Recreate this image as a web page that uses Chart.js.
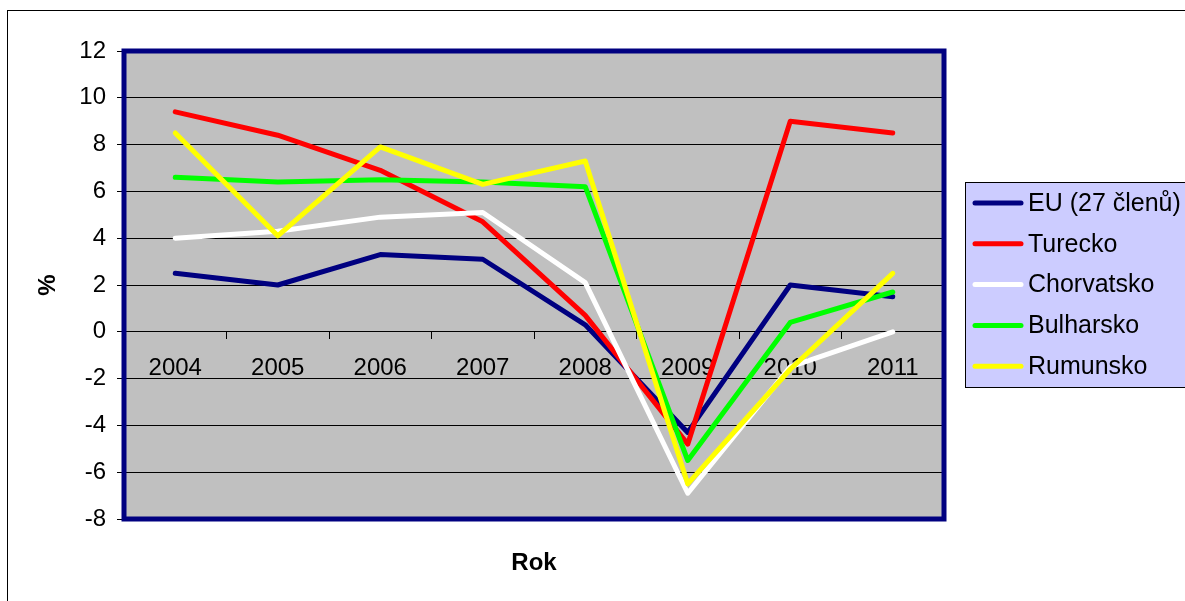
<!DOCTYPE html>
<html>
<head>
<meta charset="utf-8">
<script src="https://cdn.jsdelivr.net/npm/chart.js@4/dist/chart.umd.min.js"></script>
<style>
html,body{margin:0;padding:0;background:#fff;overflow:hidden}
canvas{display:block}
</style>
</head>
<body>
<canvas id="c" width="1185" height="601"></canvas>
<script>
// ---- data ----
const years = ['2004', '2005', '2006', '2007', '2008', '2009', '2010', '2011'];
const seriesNames = ['EU (27 členů)', 'Turecko', 'Chorvatsko', 'Bulharsko', 'Rumunsko'];
const euValues = [2.5, 2.0, 3.3, 3.1, 0.3, -4.3, 2.0, 1.5];
const tureckoValues = [9.4, 8.4, 6.9, 4.7, 0.7, -4.8, 9.0, 8.5];
const chorvatskoValues = [4.0, 4.3, 4.9, 5.1, 2.1, -6.9, -1.5, 0.0];
const bulharskoValues = [6.6, 6.4, 6.5, 6.4, 6.2, -5.5, 0.4, 1.7];
const rumunskoValues = [8.5, 4.1, 7.9, 6.3, 7.3, -6.5, -1.6, 2.5];
const yMin = -8, yMax = 12, yStep = 2;
const yTitle = '%';
const xTitle = 'Rok';

const seriesValues = [euValues, tureckoValues, chorvatskoValues, bulharskoValues, rumunskoValues];
const seriesColors = ['#000080', '#FF0000', '#FFFFFF', '#00FF00', '#FFFF00'];

const FONT = "'Liberation Sans', Arial, sans-serif";

const datasets = seriesNames.map((name, i) => ({
  label: name,
  data: seriesValues[i],
  borderColor: seriesColors[i],
  backgroundColor: seriesColors[i],
  borderWidth: 5,
  pointRadius: 0,
  pointHoverRadius: 0,
  tension: 0,
  fill: false,
  borderCapStyle: 'round',
  borderJoinStyle: 'round',
  order: seriesNames.length - 1 - i
}));

const decorPlugin = {
  id: 'decor',
  beforeDraw(chart) {
    const ctx = chart.ctx;
    const a = chart.chartArea;
    ctx.save();
    ctx.fillStyle = '#FFFFFF';
    ctx.fillRect(0, 0, chart.width, chart.height);
    // outer chart border
    ctx.strokeStyle = '#000000';
    ctx.lineWidth = 1;
    ctx.strokeRect(7.5, 10.5, chart.width + 20, chart.height + 20);
    // plot background
    ctx.fillStyle = '#C0C0C0';
    ctx.fillRect(a.left, a.top, a.right - a.left, a.bottom - a.top);
    ctx.restore();
  },
  afterDraw(chart) {
    const ctx = chart.ctx;
    const a = chart.chartArea;
    ctx.save();
    // plot frame
    ctx.strokeStyle = '#000080';
    ctx.lineWidth = 5;
    ctx.strokeRect(a.left, a.top, a.right - a.left, a.bottom - a.top);
    // axis titles
    ctx.fillStyle = '#000000';
    ctx.font = 'bold 24px ' + FONT;
    ctx.textAlign = 'center';
    ctx.textBaseline = 'middle';
    ctx.fillText(xTitle, (a.left + a.right) / 2, 563);
    ctx.save();
    ctx.translate(48, (a.top + a.bottom) / 2);
    ctx.rotate(-Math.PI / 2);
    ctx.fillText(yTitle, 0, 0);
    ctx.restore();
    // legend
    const lx = 965, ly = 182;
    ctx.fillStyle = '#CCCCFF';
    ctx.fillRect(lx, ly, 240, 205);
    ctx.strokeStyle = '#000000';
    ctx.lineWidth = 1;
    ctx.strokeRect(lx + 0.5, ly + 0.5, 240, 205);
    ctx.font = '25px ' + FONT;
    ctx.textAlign = 'left';
    ctx.textBaseline = 'middle';
    chart.data.datasets.forEach((ds, i) => {
      const y = 203 + i * 40.8;
      ctx.strokeStyle = ds.borderColor;
      ctx.lineWidth = 5;
      ctx.lineCap = 'round';
      ctx.beginPath();
      ctx.moveTo(975, y);
      ctx.lineTo(1021, y);
      ctx.stroke();
      ctx.fillStyle = '#000000';
      ctx.fillText(ds.label, 1028, y + 1);
    });
    ctx.restore();
  }
};

new Chart(document.getElementById('c'), {
  type: 'line',
  data: { labels: years, datasets },
  options: {
    responsive: false,
    animation: false,
    devicePixelRatio: 1,
    layout: { padding: { left: 0, top: 51, right: 241, bottom: 82 } },
    plugins: { legend: { display: false }, tooltip: { enabled: false }, title: { display: false } },
    scales: {
      x: {
        type: 'category',
        position: { y: 0 },
        offset: true,
        grid: {
          display: true,
          drawOnChartArea: false,
          drawTicks: true,
          tickLength: 7,
          tickColor: '#000000',
          color: '#000000',
          offset: true
        },
        border: { display: true, color: '#000000', width: 1 },
        ticks: {
          color: '#000000',
          font: { family: FONT, size: 24 },
          padding: 15,
          maxRotation: 0,
          autoSkip: false
        }
      },
      y: {
        min: yMin,
        max: yMax,
        afterFit(scale) { scale.width = 124; },
        grid: {
          color: '#000000',
          lineWidth: 1,
          drawTicks: true,
          tickLength: 7,
          tickColor: '#000000'
        },
        border: { display: false },
        ticks: {
          stepSize: yStep,
          color: '#000000',
          font: { family: FONT, size: 24 },
          padding: 11
        }
      }
    }
  },
  plugins: [decorPlugin]
});
</script>
</body>
</html>
